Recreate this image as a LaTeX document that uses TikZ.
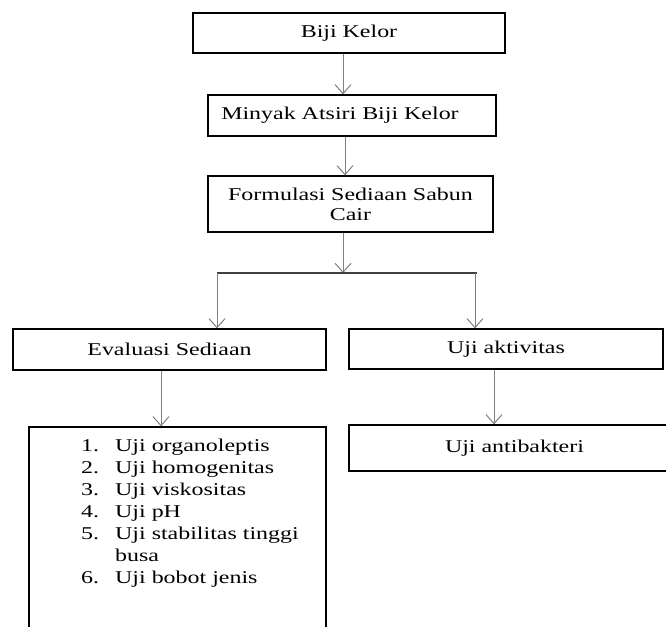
\documentclass[tikz,border=0pt]{standalone}
\usepackage{fontspec}
\setmainfont[FakeStretch=1.33]{Liberation Serif}
\usetikzlibrary{arrows.meta}
\begin{document}
\begin{tikzpicture}[x=1pt,y=-1pt,
  box/.style={draw=black,line width=1.3pt,rectangle,inner sep=0pt,align=center,
    font=\fontsize{18}{20}\selectfont},
  arr/.style={draw=black!50,line width=1pt,-{Straight Barb[length=9pt,width=16pt]}},
  ln/.style={draw=black!75,line width=1.2pt}]
\useasboundingbox (0,0) rectangle (666,626);
\node[box,minimum width=312,minimum height=40] (biji) at (349,33) {Biji Kelor};
\node[box,minimum width=288,minimum height=41] (minyak) at (352,115.5) {Minyak Atsiri Biji Kelor\hspace{24pt}};
\node[box,minimum width=285,minimum height=56] (formulasi) at (350.5,204) {Formulasi Sediaan Sabun\\Cair};
\node[box,minimum width=313,minimum height=41] (eval) at (169.5,349.5) {Evaluasi Sediaan};
\node[box,minimum width=314,minimum height=40] (akt) at (506,349) {Uji aktivitas};
\node[box,minimum width=297,minimum height=213] (listbox) at (177.5,533.5) {};
\node[box,minimum width=331,minimum height=46] (anti) at (514.5,448) {Uji antibakteri};
\node[anchor=north west,inner sep=0pt,font=\fontsize{18}{22.1}\selectfont] (items) at (81,435.5)
  {\begin{tabular}{@{}p{34pt}@{}l@{}}
   1. & Uji organoleptis\\
   2. & Uji homogenitas\\
   3. & Uji viskositas\\
   4. & Uji pH\\
   5. & Uji stabilitas tinggi\\
      & busa\\
   6. & Uji bobot jenis
   \end{tabular}};
\coordinate (split) at (343,273);
\coordinate (bl) at (217,273);
\coordinate (br) at (477,273);
\draw[arr] ([xshift=-6pt]biji.south) -- ([xshift=-6pt]biji.south |- minyak.north);
\draw[arr] ([xshift=-7pt]minyak.south) -- ([xshift=-7pt]minyak.south |- formulasi.north);
\draw[arr] (formulasi.south -| split) -- (split);
\draw[ln] (bl) -- (br);
\draw[arr] (bl) -- (bl |- eval.north);
\draw[arr] ([xshift=-2pt]br) -- ([xshift=-2pt]br |- akt.north);
\draw[arr] ([xshift=-8.5pt]eval.south) -- ([xshift=-8.5pt]eval.south |- listbox.north);
\draw[arr] ([xshift=-12pt]akt.south) -- ([xshift=-12pt]akt.south |- anti.north);
\end{tikzpicture}
\end{document}
